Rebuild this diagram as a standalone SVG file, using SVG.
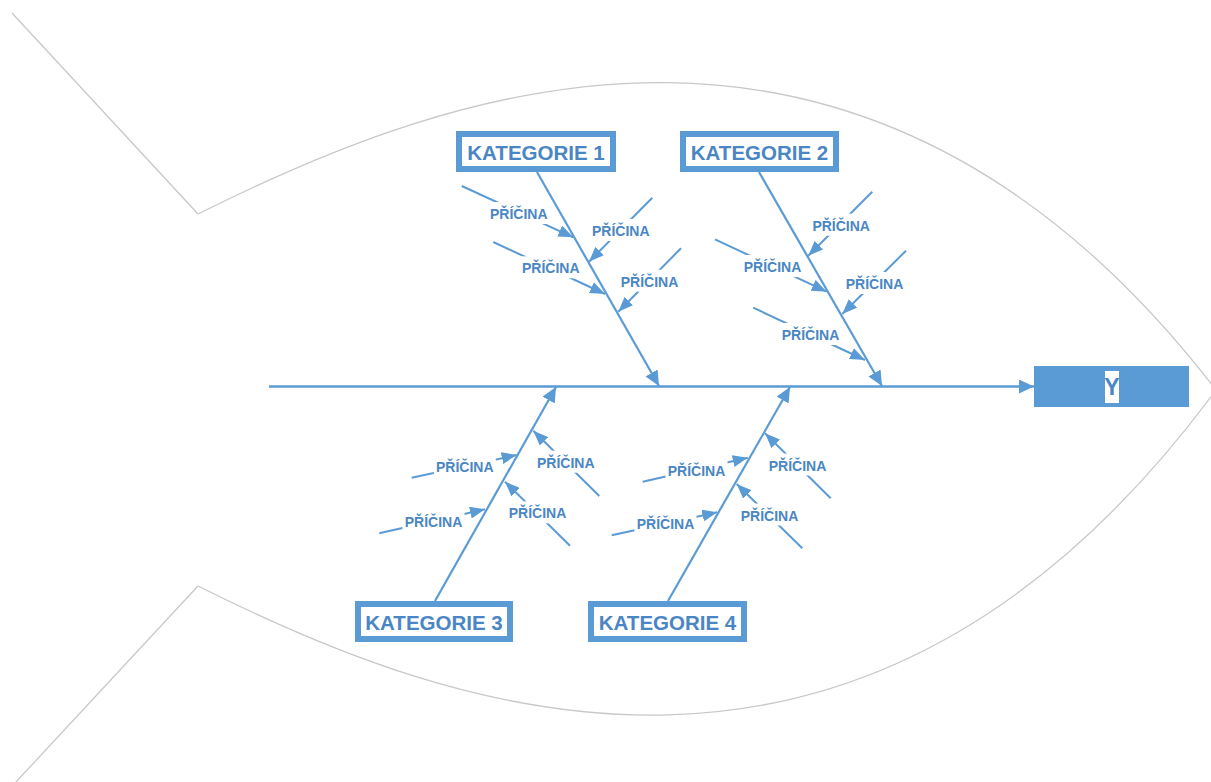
<svg xmlns="http://www.w3.org/2000/svg" width="1211" height="782" viewBox="0 0 1211 782">
  <style>
    .outline { fill: none; stroke: #C8C8C8; stroke-width: 1.3; }
    .bone { fill: none; stroke: #5B9BD5; stroke-width: 2.2; }
    .spine { fill: none; stroke: #5B9BD5; stroke-width: 2.6; }
    .cause { fill: none; stroke: #5B9BD5; stroke-width: 2; }
    .catbox { fill: #FFFFFF; stroke: #5B9BD5; stroke-width: 6; }
    .cattext { font-family: "Liberation Sans", Arial, sans-serif; font-size: 20.5px; font-weight: bold; fill: #4A86C3; text-anchor: middle; }
    .lblbg { fill: #FFFFFF; }
    .lbl { font-family: "Liberation Sans", Arial, sans-serif; font-size: 14px; font-weight: bold; fill: #4A86C3; text-anchor: middle; }
    .ytext { font-family: "Liberation Sans", Arial, sans-serif; font-size: 23px; font-weight: bold; fill: #4A86C3; text-anchor: middle; }
  </style>
  <defs>
    <marker id="headBig" markerUnits="userSpaceOnUse" markerWidth="15" markerHeight="15" refX="15" refY="7" orient="auto">
      <path d="M0,0 L15,7 L0,14 z" fill="#5B9BD5"/>
    </marker>
    <marker id="headSmall" markerUnits="userSpaceOnUse" markerWidth="15" markerHeight="12" refX="15" refY="6" orient="auto">
      <path d="M0,0 L15,6 L0,12 z" fill="#5B9BD5"/>
    </marker>
  </defs>

  <rect width="1211" height="782" fill="#FFFFFF"/>

  <!-- fish body and tail -->
  <g id="fish-outline" class="outline">
    <path d="M12,13 L198,214"/>
    <path d="M198,214 C448,89 862,-70 1216,390"/>
    <path d="M198,586 C448,711 862,870 1216,390"/>
    <path d="M198,586 L16,782"/>
  </g>

  <g id="connectors">
    <!-- spine -->
    <line class="spine" x1="269" y1="386.5" x2="1034" y2="386.5" marker-end="url(#headBig)"/>
    <!-- category bones -->
    <line class="bone" x1="537" y1="172" x2="659" y2="386" marker-end="url(#headBig)"/>
    <line class="bone" x1="759" y1="172" x2="882" y2="386" marker-end="url(#headBig)"/>
    <line class="bone" x1="435" y1="601" x2="556" y2="387" marker-end="url(#headBig)"/>
    <line class="bone" x1="668" y1="601" x2="790" y2="387" marker-end="url(#headBig)"/>
    <!-- causes, category 1 -->
    <line class="cause" x1="461.7" y1="186" x2="573.3" y2="237.3" marker-end="url(#headSmall)"/>
    <line class="cause" x1="652.3" y1="197.7" x2="589" y2="261.7" marker-end="url(#headSmall)"/>
    <line class="cause" x1="493.3" y1="242" x2="605" y2="294" marker-end="url(#headSmall)"/>
    <line class="cause" x1="681" y1="248.3" x2="618.3" y2="311.7" marker-end="url(#headSmall)"/>
    <!-- causes, category 2 -->
    <line class="cause" x1="872.3" y1="191.7" x2="808.3" y2="255.7" marker-end="url(#headSmall)"/>
    <line class="cause" x1="715" y1="239.3" x2="826.7" y2="291.7" marker-end="url(#headSmall)"/>
    <line class="cause" x1="906" y1="250.7" x2="842.3" y2="314" marker-end="url(#headSmall)"/>
    <line class="cause" x1="753.3" y1="307.7" x2="865" y2="360" marker-end="url(#headSmall)"/>
    <!-- causes, category 3 -->
    <line class="cause" x1="599.3" y1="496" x2="533.3" y2="430.7" marker-end="url(#headSmall)"/>
    <line class="cause" x1="411.7" y1="477.7" x2="516.7" y2="455" marker-end="url(#headSmall)"/>
    <line class="cause" x1="570" y1="545.7" x2="505" y2="481.7" marker-end="url(#headSmall)"/>
    <line class="cause" x1="379.3" y1="533.3" x2="485" y2="509.3" marker-end="url(#headSmall)"/>
    <!-- causes, category 4 -->
    <line class="cause" x1="830.7" y1="498.3" x2="765" y2="433.3" marker-end="url(#headSmall)"/>
    <line class="cause" x1="642.7" y1="481.7" x2="747.7" y2="457.7" marker-end="url(#headSmall)"/>
    <line class="cause" x1="802.3" y1="548.3" x2="736.7" y2="484" marker-end="url(#headSmall)"/>
    <line class="cause" x1="611.7" y1="535.3" x2="717.3" y2="512.3" marker-end="url(#headSmall)"/>
  </g>

  <!-- cause labels (white backing breaks the arrow line) -->
  <g id="cause-labels">
    <rect class="lblbg" x="487.8" y="202" width="62" height="22"/><text class="lbl" x="518.8" y="219">PŘÍČINA</text>
    <rect class="lblbg" x="589.8" y="219" width="62" height="22"/><text class="lbl" x="620.8" y="236">PŘÍČINA</text>
    <rect class="lblbg" x="519.8" y="256.3" width="62" height="22"/><text class="lbl" x="550.8" y="273.3">PŘÍČINA</text>
    <rect class="lblbg" x="618.5" y="269.7" width="62" height="22"/><text class="lbl" x="649.5" y="286.7">PŘÍČINA</text>

    <rect class="lblbg" x="810.2" y="213.7" width="62" height="22"/><text class="lbl" x="841.2" y="230.7">PŘÍČINA</text>
    <rect class="lblbg" x="741.5" y="255" width="62" height="22"/><text class="lbl" x="772.5" y="272">PŘÍČINA</text>
    <rect class="lblbg" x="843.5" y="272" width="62" height="22"/><text class="lbl" x="874.5" y="289">PŘÍČINA</text>
    <rect class="lblbg" x="779.5" y="323" width="62" height="22"/><text class="lbl" x="810.5" y="340">PŘÍČINA</text>

    <rect class="lblbg" x="534.8" y="450.7" width="62" height="22"/><text class="lbl" x="565.8" y="467.7">PŘÍČINA</text>
    <rect class="lblbg" x="433.8" y="454.7" width="62" height="22"/><text class="lbl" x="464.8" y="471.7">PŘÍČINA</text>
    <rect class="lblbg" x="506.5" y="501.3" width="62" height="22"/><text class="lbl" x="537.5" y="518.3">PŘÍČINA</text>
    <rect class="lblbg" x="402.5" y="509.7" width="62" height="22"/><text class="lbl" x="433.5" y="526.7">PŘÍČINA</text>

    <rect class="lblbg" x="766.5" y="453.5" width="62" height="22"/><text class="lbl" x="797.5" y="470.5">PŘÍČINA</text>
    <rect class="lblbg" x="665.5" y="458.7" width="62" height="22"/><text class="lbl" x="696.5" y="475.7">PŘÍČINA</text>
    <rect class="lblbg" x="738.5" y="503.5" width="62" height="22"/><text class="lbl" x="769.5" y="520.5">PŘÍČINA</text>
    <rect class="lblbg" x="634.5" y="512" width="62" height="22"/><text class="lbl" x="665.5" y="529">PŘÍČINA</text>
  </g>

  <g id="kategorie-1">
    <rect class="catbox" x="459" y="134" width="154" height="35"/>
    <text class="cattext" x="536" y="159.5">KATEGORIE 1</text>
  </g>
  <g id="kategorie-2">
    <rect class="catbox" x="683" y="134" width="153" height="35"/>
    <text class="cattext" x="759.5" y="159.5">KATEGORIE 2</text>
  </g>
  <g id="kategorie-3">
    <rect class="catbox" x="358" y="604" width="152" height="35"/>
    <text class="cattext" x="434" y="630">KATEGORIE 3</text>
  </g>
  <g id="kategorie-4">
    <rect class="catbox" x="591" y="604" width="153" height="35"/>
    <text class="cattext" x="667.5" y="630">KATEGORIE 4</text>
  </g>

  <g id="effect-y">
    <rect x="1034" y="366" width="155" height="41" fill="#5B9BD5"/>
    <rect x="1105" y="371" width="14" height="32" fill="#FFFFFF"/>
    <text class="ytext" x="1112" y="395">Y</text>
  </g>
</svg>
